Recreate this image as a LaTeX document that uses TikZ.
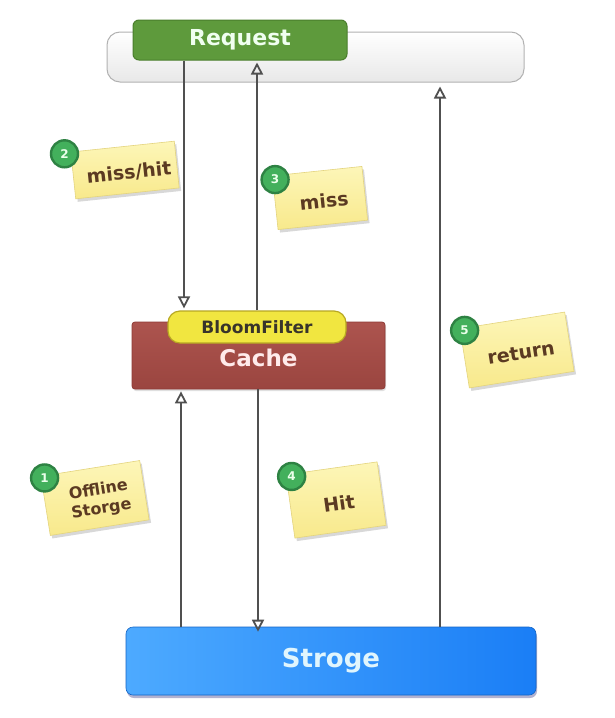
\documentclass[tikz,border=0pt]{standalone}
\usepackage{fontspec}
\setmainfont{DejaVu Sans}
\usetikzlibrary{arrows.meta,shadows}
\definecolor{linegray}{HTML}{505050}
\definecolor{reqgreen}{HTML}{5E9A3C}
\definecolor{reqborder}{HTML}{4A7E2C}
\definecolor{cachered}{HTML}{A84B45}
\definecolor{cacheborder}{HTML}{8E3A35}
\definecolor{bloomyellow}{HTML}{F1E640}
\definecolor{bloomborder}{HTML}{B8A822}
\definecolor{notetop}{HTML}{FDF6B8}
\definecolor{notebot}{HTML}{F8E98C}
\definecolor{noteborder}{HTML}{E4D47E}
\definecolor{notetext}{HTML}{5B3A22}
\definecolor{badgegreen}{HTML}{43B05C}
\definecolor{badgering}{HTML}{2E8243}
\definecolor{storleft}{HTML}{4DAAFF}
\definecolor{storright}{HTML}{1A7EF6}
\tikzset{
  conn/.style={draw=linegray, line width=2.6pt, -{Triangle[open,length=12pt,width=12pt,line width=1.8pt]}},
  notebox/.style={draw=noteborder, line width=0.6pt, top color=notetop, bottom color=notebot,
     inner sep=0pt,
     drop shadow={shadow xshift=2pt, shadow yshift=-3pt, opacity=0.25, fill=black!60}},
  notelabel/.style={text=notetext, font=\bfseries\fontsize{19}{21}\selectfont, align=center, inner sep=1pt},
  badge/.style={circle, draw=badgering, line width=2.4pt, fill=badgegreen, minimum size=27pt,
     inner sep=0pt, text=white!92!green, font=\bfseries\fontsize{12}{12}\selectfont}
}
\begin{document}
\begin{tikzpicture}[x=1pt,y=-1pt]
\useasboundingbox (0,0) rectangle (614,718);
\fill[white] (0,0) rectangle (614,718);

% top bar and request
\node[draw=black!30, line width=1pt, rounded corners=13pt, top color=white, bottom color=black!9,
  minimum width=417pt, minimum height=50pt, inner sep=0pt] (bar) at (315.5,57) {};
\node[draw=reqborder, line width=1pt, rounded corners=6pt, fill=reqgreen,
  minimum width=214pt, minimum height=40pt, inner sep=0pt, text=white!94!green,
  font=\bfseries\fontsize{22}{24}\selectfont] (req) at (240,40) {Request};

% cache with bloom filter
\node[draw=cacheborder, line width=0.8pt, rounded corners=3pt, top color=cachered!95!white, bottom color=cachered!92!black,
  minimum width=253pt, minimum height=67pt, inner sep=0pt,
  drop shadow={shadow xshift=1pt, shadow yshift=-2pt, opacity=0.25}] (cache) at (258.5,355.5) {};
\node[text=white!92!red, font=\bfseries\fontsize{23}{25}\selectfont] (cachetxt) at (258.5,358) {Cache};
\node[draw=bloomborder, line width=1.2pt, rounded corners=12pt, fill=bloomyellow,
  minimum width=178pt, minimum height=32pt, inner sep=0pt, text=black!80!olive,
  font=\bfseries\fontsize{17}{19}\selectfont] (bloom) at (257,327) {BloomFilter};

% storage
\node[draw=storright!80!black, line width=0.6pt, rounded corners=7pt, left color=storleft, right color=storright,
  minimum width=410pt, minimum height=68pt, inner sep=0pt, text=white!88!cyan,
  font=\bfseries\fontsize{26}{28}\selectfont,
  drop shadow={shadow xshift=1pt, shadow yshift=-3pt, opacity=0.3, fill=blue!40!black}] (stor) at (331,661) {Stroge};

% x positions of connectors
\coordinate (xa) at (184,0);
\coordinate (xb) at (257,0);
\coordinate (xc) at (440,0);
\coordinate (xd) at (181,0);
\coordinate (xe) at (258,0);

\draw[conn] (req.south -| xa) -- ([yshift=2pt]bloom.north -| xa);
\draw[conn] (bloom.north -| xb) -- ([yshift=-2pt]req.south -| xb);
\draw[conn] (stor.north -| xc) -- ([yshift=-4pt]bar.south -| xc);
\draw[conn] (stor.north -| xd) -- ([yshift=-2pt]cache.south -| xd);
\draw[conn] (cache.south -| xe) -- ([yshift=-5pt]stor.north -| xe);

% notes
\node[notebox, rotate=6, minimum width=104pt, minimum height=47pt] (n2) at (125,170) {};
\node[notelabel, rotate=6] (t2) at ([xshift=4pt,yshift=-3pt]n2.center) {miss/hit};
\node[notebox, rotate=6, minimum width=90pt, minimum height=54pt] (n3) at (320,198) {};
\node[notelabel, rotate=6] (t3) at ([xshift=4pt,yshift=-3pt]n3.center) {miss};
\node[notebox, rotate=9, minimum width=106pt, minimum height=60pt] (n5) at (517,350) {};
\node[notelabel, rotate=9] (t5) at ([xshift=4pt,yshift=-3pt]n5.center) {return};
\node[notebox, rotate=9, minimum width=100pt, minimum height=60pt] (n1) at (95,498) {};
\node[notelabel, rotate=9, font=\bfseries\fontsize{16}{19}\selectfont] (t1) at ([xshift=5pt,yshift=-2pt]n1.center) {Offline\\Storge};
\node[notebox, rotate=8, minimum width=92pt, minimum height=64pt] (n4) at (336,500) {};
\node[notelabel, rotate=8] (t4) at ([xshift=3pt,yshift=-3pt]n4.center) {Hit};

% badges
\node[badge] (b2) at ([xshift=-6pt,yshift=-2pt]n2.north west) {2};
\node[badge] (b3) at ([xshift=3pt,yshift=-4pt]n3.north west) {3};
\node[badge] (b5) at ([xshift=5pt,yshift=-2pt]n5.north west) {5};
\node[badge] (b1) at ([xshift=4pt,yshift=-2pt]n1.north west) {1};
\node[badge] (b4) at ([xshift=6pt,yshift=-2pt]n4.north west) {4};
\end{tikzpicture}
\end{document}
